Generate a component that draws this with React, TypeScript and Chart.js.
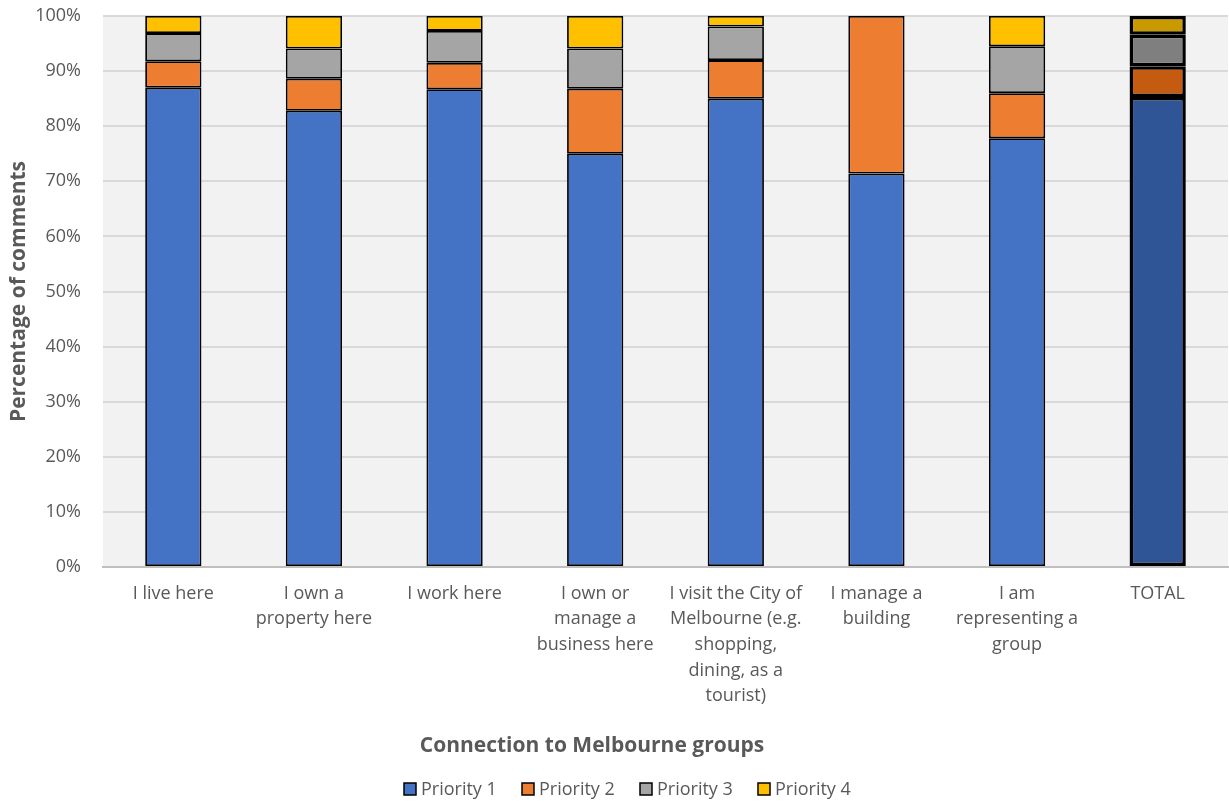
import React, { useEffect, useRef } from "react";
import { Chart, registerables } from "chart.js";

Chart.register(...registerables);

const categories: string[][] = [
  ["I live here"],
  ["I own a", "property here"],
  ["I work here"],
  ["I own or", "manage a", "business here"],
  ["I visit the City of", "Melbourne (e.g.", "shopping,", "dining, as a", "tourist)"],
  ["I manage a", "building"],
  ["I am", "representing a", "group"],
  ["TOTAL"],
];

const priority1 = [87.0, 82.8, 86.7, 75.0, 85.0, 71.4, 77.8, 85.3];
const priority2 = [4.8, 5.8, 4.8, 11.8, 7.0, 28.6, 8.2, 5.6];
const priority3 = [5.1, 5.5, 5.8, 7.3, 6.1, 0, 8.5, 5.7];
const priority4 = [3.1, 5.9, 2.7, 5.9, 1.9, 0, 5.5, 3.4];

const seriesNames = ["Priority 1", "Priority 2", "Priority 3", "Priority 4"];
const baseColors = ["#4472C4", "#ED7D31", "#A5A5A5", "#FFC000"];
const totalColors = ["#2F5597", "#C55A11", "#7F7F7F", "#C99A00"];

const yTicks = [0, 10, 20, 30, 40, 50, 60, 70, 80, 90, 100];

const xTitle = "Connection to Melbourne groups";
const yTitle = "Percentage of comments";

const FONT = "'Open Sans', 'Noto Sans', sans-serif";
const TEXT = "#595959";

export default function App() {
  const ref = useRef<HTMLCanvasElement | null>(null);

  useEffect(() => {
    if (!ref.current) return;
    const values = [priority1, priority2, priority3, priority4];
    const n = categories.length;

    const bgPlugin = {
      id: "plotBg",
      beforeDraw(chart: any) {
        const { ctx, chartArea } = chart;
        ctx.save();
        ctx.fillStyle = "#F2F2F2";
        ctx.fillRect(chartArea.left, chartArea.top, chartArea.right - chartArea.left, chartArea.bottom - chartArea.top);
        ctx.restore();
      },
      afterDraw(chart: any) {
        const { ctx } = chart;
        ctx.save();
        // x-axis title
        ctx.fillStyle = TEXT;
        ctx.font = `bold 21px ${FONT}`;
        ctx.textAlign = "center";
        ctx.textBaseline = "middle";
        ctx.fillText(xTitle, 592, 746);
        // legend
        ctx.font = `18px ${FONT}`;
        ctx.textAlign = "left";
        const startX = 404;
        const step = 118;
        const cy = 789;
        seriesNames.forEach((name, i) => {
          const x = startX + i * step;
          ctx.fillStyle = baseColors[i];
          ctx.fillRect(x, cy - 6, 12, 12);
          ctx.strokeStyle = "#000";
          ctx.lineWidth = 1.5;
          ctx.strokeRect(x, cy - 6, 12, 12);
          ctx.fillStyle = TEXT;
          ctx.fillText(name, x + 17, cy + 1);
        });
        ctx.restore();
      },
    };

    const chart = new Chart(ref.current, {
      type: "bar",
      data: {
        labels: categories,
        datasets: values.map((vals, i) => ({
          label: seriesNames[i],
          data: vals,
          backgroundColor: Array.from({ length: n }, (_, j) => (j === n - 1 ? totalColors[i] : baseColors[i])),
          borderColor: "#000000",
          borderWidth: Array.from({ length: n }, (_, j) => (j === n - 1 ? 3.5 : 1.8)),
          borderSkipped: false,
          categoryPercentage: 1,
          barPercentage: 0.4,
        })),
      },
      options: {
        animation: false,
        responsive: true,
        maintainAspectRatio: false,
        layout: { padding: { top: 16, right: 1, bottom: 0, left: 0 } },
        plugins: {
          legend: { display: false },
          tooltip: { enabled: false },
          title: { display: false },
        },
        scales: {
          x: {
            stacked: true,
            grid: { display: false, drawTicks: false },
            border: { display: true, color: "#BFBFBF", width: 2 },
            ticks: {
              color: TEXT,
              font: { family: FONT, size: 18, lineHeight: 1.42 },
              padding: 14,
              maxRotation: 0,
              autoSkip: false,
            },
            afterFit(scale: any) {
              scale.height = 235;
              scale.paddingLeft = 0;
              scale.paddingRight = 0;
            },
          },
          y: {
            stacked: true,
            min: 0,
            max: 100,
            afterBuildTicks(scale: any) {
              scale.ticks = yTicks.map((v) => ({ value: v }));
            },
            grid: { color: "#D9D9D9", lineWidth: 2, drawTicks: false },
            border: { display: false },
            ticks: {
              color: TEXT,
              font: { family: FONT, size: 18 },
              padding: 22,
              callback: (v: any) => `${v}%`,
            },
            title: {
              display: true,
              text: yTitle,
              color: TEXT,
              font: { family: FONT, size: 21, weight: "bold" },
              padding: { top: 6, bottom: 0 },
            },
            afterFit(scale: any) {
              scale.width = 103;
              scale.paddingTop = 0;
              scale.paddingBottom = 0;
            },
          },
        },
      },
      plugins: [bgPlugin],
    });

    return () => chart.destroy();
  }, []);

  return (
    <div style={{ position: "fixed", left: 0, top: 0, width: 1229, height: 802, background: "#fff" }}>
      <canvas ref={ref} />
    </div>
  );
}
